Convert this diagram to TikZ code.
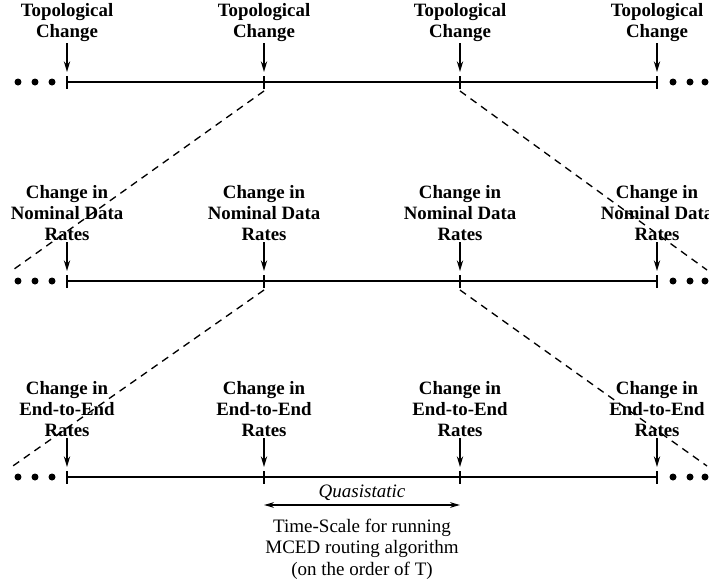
\documentclass[tikz,border=0pt]{standalone}
\usepackage{fontspec}
\setmainfont{Liberation Serif}
\usetikzlibrary{arrows.meta}
\begin{document}
\begin{tikzpicture}[x=0.6pt,y=-0.6pt,
  lbl/.style={font=\bfseries\fontsize{11.3}{12.6}\selectfont, align=center,
              anchor=south, inner sep=0pt, outer sep=0.6pt},
  captext/.style={font=\fontsize{11.4}{12.9}\selectfont, align=center, inner sep=0pt},
  axis/.style={line width=0.85pt},
  tickmark/.style={line width=0.7pt},
  down/.style={line width=0.8pt, -{Stealth[length=6.4pt,width=3.8pt]}},
  span/.style={line width=0.8pt, {Stealth[length=6pt,width=3.4pt]}-{Stealth[length=6pt,width=3.4pt]}},
  guide/.style={line width=0.8pt, dash pattern=on 4.4pt off 3.4pt},
  dot/.style={circle, fill=black, inner sep=0pt, minimum size=4.2pt}]
\useasboundingbox (0,0) rectangle (709,586);

% three time lines with their change events
\foreach \r/\y/\txt in {1/82/{Topological\\Change},
                        2/281/{Change in\\Nominal Data\\Rates},
                        3/477/{Change in\\End-to-End\\Rates}}{
  \foreach \i/\x in {1/67,2/264,3/460,4/657}{
    \coordinate (t\r-\i) at (\x,\y);
    \node[lbl] (l\r-\i) at (\x,\y-39) {\txt};
    \coordinate (h\r-\i) at (\x,\y-10);
    \draw[down] (l\r-\i) -- (h\r-\i);
    \draw[tickmark] (\x,\y-6) -- (\x,\y+7);
  }
  \draw[axis] (t\r-1) -- (t\r-4);
  % continuation dots
  \foreach \j/\x in {1/18,2/35,3/52,4/673,5/690,6/705}{
    \node[dot] (d\r-\j) at (\x,\y) {};
  }
}

% zoom-in guides between successive time lines
\coordinate (g1a) at (10,272);
\coordinate (g1b) at (707,270);
\coordinate (g2a) at (10,468);
\coordinate (g2b) at (707,466);
\draw[guide] ([yshift=-5.4pt]t1-2) -- (g1a);
\draw[guide] ([yshift=-5.4pt]t1-3) -- (g1b);
\draw[guide] ([yshift=-5.4pt]t2-2) -- (g2a);
\draw[guide] ([yshift=-5.4pt]t2-3) -- (g2b);

% quasistatic interval
\coordinate (q1) at (264,505);
\coordinate (q2) at (460,505);
\draw[span] (q1) -- (q2);
\node[captext, font=\itshape\fontsize{11.4}{12.9}\selectfont] (qs) at (362,492.5) {Quasistatic};
\node[captext] (ts) at (362,549) {Time-Scale for running\\MCED routing algorithm\\(on the order of T)};
\end{tikzpicture}
\end{document}
